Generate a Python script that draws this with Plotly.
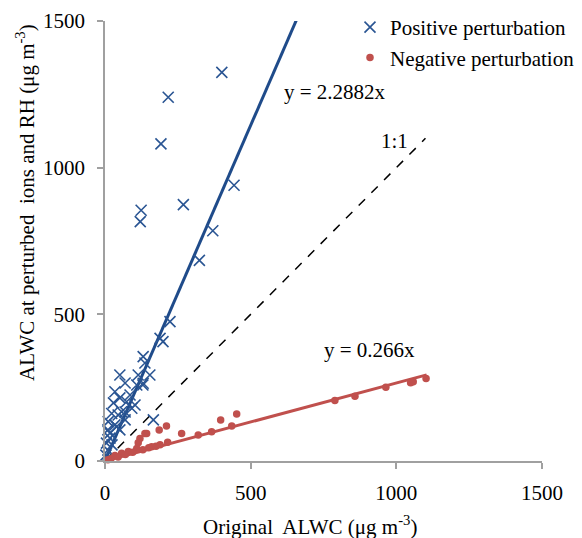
import plotly.graph_objects as go

# Positive perturbation (original ALWC, ALWC at perturbed ions and RH)
pos_x = [401, 217, 192, 269, 124, 121, 443, 370, 324, 223, 189, 199, 131,
         154, 131, 166, 114, 109, 51, 69, 34, 51, 29, 74, 92, 57, 23, 11, 40, 17, 5,
         130, 86, 103, 69, 34, 10, 24, 10, 3, 17, 51, 69, 45, 137]
pos_y = [1325, 1240, 1081, 874, 855, 816, 940, 785, 684, 475, 418, 407, 356,
         293, 265, 140, 293, 259, 293, 266, 236, 215, 198, 202, 180, 168, 162, 134, 117, 95, 61,
         259, 225, 191, 167, 123, 106, 55, 37, 20, 78, 106, 140, 157, 334]

# Negative perturbation
neg_x = [1102, 1058, 1049, 964, 858, 789,
         452, 397, 435, 366, 320, 263, 211, 186, 215, 189, 160, 143, 120, 114, 109,
         80, 57, 34, 20, 10, 45, 70, 95, 130, 150, 175, 137]
neg_y = [281, 270, 267, 251, 221, 206,
         160, 140, 119, 100, 89, 94, 119, 106, 64, 55, 49, 94, 77, 62, 43,
         32, 26, 19, 8, 4, 14, 22, 30, 38, 45, 50, 94]

pos_slope = 2.2882
neg_slope = 0.266
pos_fit_x = [0, 700]
neg_fit_x = [0, 1104]
one_x = [0, 1100]

blue = "#2a5593"
red = "#c0504d"
axis_col = "#a0a0a0"
font = "Liberation Serif"

W, H, L, R, T, B = 582, 538, 105, 40, 21, 77
pw, ph = W - L - R, H - T - B


def px(xp):
    return (xp - L) / pw


def py(yp):
    return (H - B - yp) / ph


fig = go.Figure()
fig.add_trace(go.Scatter(x=pos_fit_x, y=[pos_slope * v for v in pos_fit_x], mode="lines",
                         line=dict(color="#1f4b8a", width=3), showlegend=False, hoverinfo="skip"))
fig.add_trace(go.Scatter(x=neg_fit_x, y=[neg_slope * v for v in neg_fit_x], mode="lines",
                         line=dict(color=red, width=3), showlegend=False, hoverinfo="skip"))
fig.add_trace(go.Scatter(x=one_x, y=one_x, mode="lines",
                         line=dict(color="black", width=1.5, dash="dash"), showlegend=False, hoverinfo="skip"))
fig.add_trace(go.Scatter(x=pos_x, y=pos_y, mode="markers", name="Positive perturbation",
                         legendgroup="a", cliponaxis=False,
                         marker=dict(symbol="x-thin", size=11, line=dict(color=blue, width=1.6))))
fig.add_trace(go.Scatter(x=neg_x, y=neg_y, mode="markers", name="Negative perturbation",
                         legendgroup="b", cliponaxis=False,
                         marker=dict(symbol="circle", size=7.5, color=red)))

ax = dict(range=[0, 1500], tickvals=[0, 500, 1000, 1500], showgrid=False, zeroline=False,
          showline=True, linecolor=axis_col, linewidth=1.5, ticks="outside", ticklen=6,
          tickcolor=axis_col, tickwidth=1.5, tickfont=dict(family=font, size=21, color="black"),
          ticklabelstandoff=6)
fig.update_layout(
    width=W, height=H, margin=dict(l=L, r=R, t=T, b=B, autoexpand=False),
    paper_bgcolor="white", plot_bgcolor="white",
    font=dict(family=font, size=21, color="black"),
    xaxis=ax, yaxis=dict(ax, ticklabelstandoff=8),
    legend=dict(x=px(350), y=py(7), xanchor="left", yanchor="top", bgcolor="rgba(0,0,0,0)",
                font=dict(family=font, size=21), tracegroupgap=0),
    annotations=[
        dict(x=607, y=1258, xref="x", yref="y", text="y = 2.2882x", showarrow=False,
             xanchor="left", yanchor="middle", font=dict(size=21)),
        dict(x=995, y=1091, xref="x", yref="y", text="1:1", showarrow=False,
             xanchor="center", yanchor="middle", font=dict(size=21)),
        dict(x=909, y=378, xref="x", yref="y", text="y = 0.266x", showarrow=False,
             xanchor="center", yanchor="middle", font=dict(size=21)),
        dict(x=px(310), y=py(525), xref="paper", yref="paper", text="Original  ALWC (μg m<sup>-3</sup>)",
             showarrow=False, xanchor="center", yanchor="middle", font=dict(size=21)),
        dict(x=px(25), y=py(203), xref="paper", yref="paper",
             text="ALWC at perturbed  ions and RH (μg m<sup>-3</sup>)",
             showarrow=False, textangle=-90, xanchor="center", yanchor="middle", font=dict(size=21)),
    ],
)
fig.write_html("out.html", config={"displayModeBar": False},
               post_script="document.body.style.margin='0';document.body.style.overflow='hidden';")
